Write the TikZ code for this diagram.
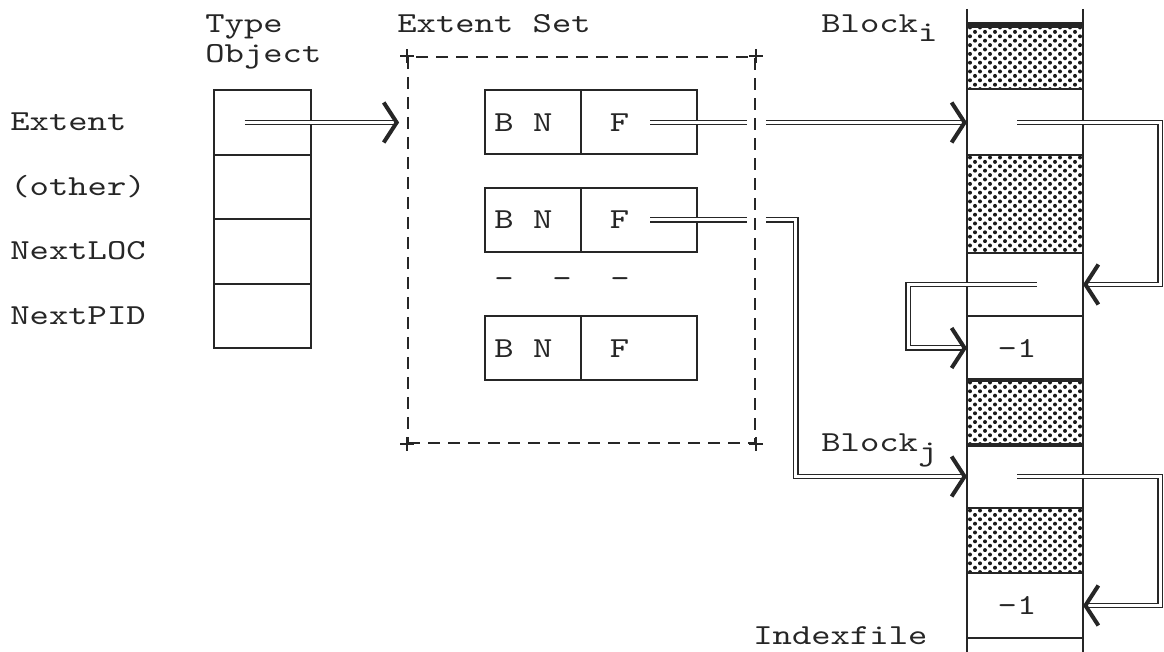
\documentclass[tikz,border=0pt]{standalone}
\usepackage{fontspec}
\newfontfamily\typewriter{lmmono10-regular.otf}[FakeStretch=1.27]
\usepackage{tikz}
\usetikzlibrary{arrows.meta, positioning, calc}
\definecolor{ink}{gray}{0.15}

\begin{document}
\begin{tikzpicture}[
        x=0.5pt, y=-0.5pt,
        font=\typewriter\fontsize{14.5}{15}\selectfont,
        every node/.style={inner sep=0pt, text=ink},
        field/.style={draw=ink, line width=1pt, outer sep=0pt, minimum height=32pt},
        obj/.style={field, minimum width=48.5pt, minimum height=32.25pt},
        bn/.style={field, minimum width=48pt},
        ff/.style={field, minimum width=58pt},
        setbox/.style={draw=ink, line width=0.9pt, dash pattern=on 6pt off 4pt,
          minimum width=173.5pt, minimum height=193pt},
        blank/.style={draw=ink, line width=0.8pt, outer sep=0pt, minimum width=58pt},
        % halftone screen for the used blocks
        shade/.style={blank, line width=1.2pt, path picture={
            \foreach \j in {0,...,22} \foreach \i in {0,...,11}
              \fill[black!90] ([shift={({\i*10+mod(\j,2)*5+3},{\j*4.4+2.5})}]path picture bounding box.north west)
                circle (1pt);
          }},
        rail/.style={draw=ink, line width=0.75pt},
        rule/.style={draw=ink, double, double distance=1.5pt, line width=0.6pt},
        ptr/.style={rule, -{Straight Barb[length=6.5pt, width=20pt, line width=2pt]}},
        ]
        \useasboundingbox (0,0) rectangle (1164,652);

        % type object
        \node[anchor=base west] (type)   at (205,33) {Type};
        \node[anchor=base west] (object) at (205,63) {Object};
        \foreach \lbl [count=\k] in {Extent,{(other)},NextLOC,NextPID} {
          \node[obj] (to\k) at (262.5, 58+64.5*\k) {};
          \node[anchor=base west] (lbl\k) at (10, 66.5+64.5*\k) {\lbl};
        }

        % extent set
        \node[anchor=base west] (settitle) at (397,33) {Extent Set};
        \node[setbox] (set) at (581.5,250) {};
        \foreach \c in {north west, north east, south west, south east}
          \draw[ink, line width=0.9pt] (set.\c) ++(-7,0) -- ++(14,0)
                                       (set.\c) ++(0,-7) -- ++(0,14);
        \foreach \k/\yc in {1/122.5, 2/220, 3/348.5} {
          \node[bn] (bn\k) at (533,\yc) {};
          \node[ff, right=0pt of bn\k] (f\k) {};
          \node at ([xshift=-4.75pt]bn\k.center) {B N};
          \node at ([xshift=-9.75pt]f\k.center) {F};
        }
        \node (more) at (562,283) {-~~-~~-};

        % index file
        \foreach \n/\yc/\h/\sty in {1/57/32pt/shade, 2/122.5/33pt/blank, 3/204/49pt/shade,
            4/284.5/31.5pt/blank, 5/348/32pt/blank, 6/412.5/32.5pt/shade,
            7/476.5/31.5pt/blank, 8/540.5/32.5pt/shade, 9/605.5/32.5pt/blank}
          \node[\sty, minimum height=\h] (c\n) at (1025,\yc) {};
        \draw[ink, line width=3pt] (c1.north west) -- (c1.north east);
        \draw[ink, line width=1.8pt] (c6.north west) -- (c6.north east)
                                     (c6.south west) -- (c6.south east);
        \draw[rail] (c1.west |- 0,9) -- (c1.west |- 0,652);
        \draw[rail] (c1.east |- 0,9) -- (c1.east |- 0,652);
        \node at ([xshift=-4pt]c5.center) {-1};
        \node at ([xshift=-4pt]c9.center) {-1};
        \node[anchor=base west] (blocki) at (821,33) {Block\raisebox{-4.5pt}{i}};
        \node[anchor=base west] (blockj) at (821,452) {Block\raisebox{-4.5pt}{j}};
        \node[anchor=base west] (indexfile) at (753,645) {Indexfile};

        % pointers
        \draw[ptr] ([xshift=-9pt]to1.center) -- ($(set.west |- to1)+(-8,0)$);
        \draw[rule] ([xshift=5.5pt]f1.center) -- ($(set.east |- f1)+(-9,0)$);
        \draw[ptr] ($(set.east |- f1)+(10,0)$) -- (c2.west);
        \draw[rule] ([xshift=5.5pt]f2.center) -- ($(set.east |- f2)+(-9,0)$);
        \draw[ptr] ($(set.east |- f2)+(10,0)$) -- ++(30,0) |- (c7.west);
        \draw[ptr] ([xshift=-4pt]c2.center) -- ($(c2.east)+(77,0)$) |- (c4.east);
        \draw[ptr] ([xshift=6pt]c4.center) -- ($(c4.west)+(-59,0)$) |- (c5.west);
        \draw[ptr] ([xshift=-4pt]c7.center) -- ($(c7.east)+(77,0)$) |- (c9.east);
\end{tikzpicture}
\end{document}
